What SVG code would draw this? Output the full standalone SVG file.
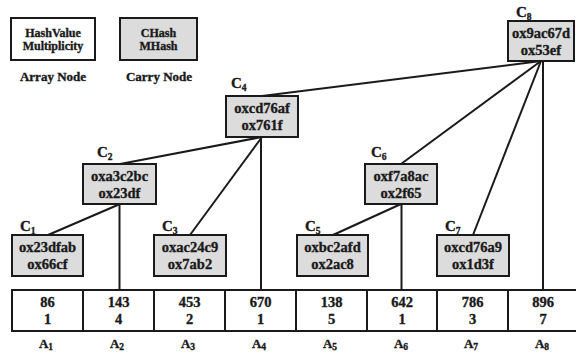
<svg xmlns="http://www.w3.org/2000/svg" width="576" height="356" viewBox="0 0 576 356" font-family="'Liberation Serif', 'Times New Roman', serif" font-weight="700">
<style>
text{font-family:"Liberation Serif","Times New Roman",serif;font-weight:700;fill:#1a1a1a;stroke:#1a1a1a;stroke-width:0.35;text-anchor:middle}
.box{fill:#dcdcdc;stroke:#1a1a1a;stroke-width:2}
.arr{fill:#fff;stroke:#1a1a1a;stroke-width:2}
.nt{font-size:14.5px}
.lg{font-size:12px}
.lab{font-size:13px}
.cl{font-size:15px;text-anchor:start}
.sub{font-size:9.5px}
.edge{stroke:#1a1a1a;stroke-width:2;fill:none}
</style>
<rect width="576" height="356" fill="#fff"/>
<g id="legend">
<g id="legend-array"><rect class="arr" x="11" y="18" width="84" height="42"/><text class="lg" x="53" y="37">HashValue</text><text class="lg" x="53" y="50">Multiplicity</text><text class="lab" x="53" y="81">Array Node</text></g>
<g id="legend-carry"><rect class="box" x="120" y="18" width="77" height="42"/><text class="lg" x="158.5" y="37">CHash</text><text class="lg" x="158.5" y="50">MHash</text><text class="lab" x="159" y="81">Carry Node</text></g>
</g>
<g id="connectors">
<line class="edge" x1="541" y1="61" x2="262" y2="96"/>
<line class="edge" x1="541" y1="61" x2="401" y2="164"/>
<line class="edge" x1="541" y1="61" x2="473" y2="235"/>
<line class="edge" x1="543" y1="61" x2="543" y2="290"/>
<line class="edge" x1="262" y1="137" x2="120" y2="164"/>
<line class="edge" x1="262" y1="137" x2="190" y2="235"/>
<line class="edge" x1="261" y1="137" x2="261" y2="290"/>
<line class="edge" x1="120" y1="204" x2="48" y2="235"/>
<line class="edge" x1="119.5" y1="204" x2="119.5" y2="290"/>
<line class="edge" x1="401" y1="204" x2="333" y2="235"/>
<line class="edge" x1="401.5" y1="204" x2="401.5" y2="290"/>
</g>
<g id="C1"><text class="cl" x="20" y="231">C<tspan class="sub" dy="3">1</tspan></text><rect class="box" x="12" y="235" width="71" height="41"/><text class="nt" x="47.5" y="252">ox23dfab</text><text class="nt" x="47.5" y="269">ox66cf</text></g>
<g id="C2"><text class="cl" x="97" y="157">C<tspan class="sub" dy="3">2</tspan></text><rect class="box" x="83" y="164" width="73" height="40"/><text class="nt" x="119.5" y="181">oxa3c2bc</text><text class="nt" x="119.5" y="198">ox23df</text></g>
<g id="C3"><text class="cl" x="162" y="231">C<tspan class="sub" dy="3">3</tspan></text><rect class="box" x="154" y="235" width="72" height="41"/><text class="nt" x="190" y="252">oxac24c9</text><text class="nt" x="190" y="269">ox7ab2</text></g>
<g id="C4"><text class="cl" x="231" y="88">C<tspan class="sub" dy="3">4</tspan></text><rect class="box" x="226" y="96" width="72" height="41"/><text class="nt" x="262" y="113">oxcd76af</text><text class="nt" x="262" y="130">ox761f</text></g>
<g id="C5"><text class="cl" x="305" y="231">C<tspan class="sub" dy="3">5</tspan></text><rect class="box" x="297" y="235" width="71" height="41"/><text class="nt" x="332.5" y="252">oxbc2afd</text><text class="nt" x="332.5" y="269">ox2ac8</text></g>
<g id="C6"><text class="cl" x="371" y="157">C<tspan class="sub" dy="3">6</tspan></text><rect class="box" x="365" y="164" width="72" height="40"/><text class="nt" x="401" y="181">oxf7a8ac</text><text class="nt" x="401" y="198">ox2f65</text></g>
<g id="C7"><text class="cl" x="445" y="231">C<tspan class="sub" dy="3">7</tspan></text><rect class="box" x="437" y="235" width="72" height="41"/><text class="nt" x="473" y="252">oxcd76a9</text><text class="nt" x="473" y="269">ox1d3f</text></g>
<g id="C8"><text class="cl" x="516" y="17">C<tspan class="sub" dy="3">8</tspan></text><rect class="box" x="508" y="21" width="66" height="40"/><text class="nt" x="541" y="38">ox9ac67d</text><text class="nt" x="541" y="55">ox53ef</text></g>
<g id="array">
<rect class="arr" x="12" y="290" width="570" height="41"/>
<g class="edge"><line x1="83" y1="290" x2="83" y2="331"/><line x1="154" y1="290" x2="154" y2="331"/><line x1="225" y1="290" x2="225" y2="331"/><line x1="296" y1="290" x2="296" y2="331"/><line x1="367" y1="290" x2="367" y2="331"/><line x1="437" y1="290" x2="437" y2="331"/><line x1="508" y1="290" x2="508" y2="331"/></g>
</g>
<g id="A1"><text class="nt" x="47.5" y="307">86</text><text class="nt" x="47.5" y="324">1</text><text class="lab" x="46" y="348">A<tspan class="sub" dy="2">1</tspan></text></g>
<g id="A2"><text class="nt" x="118.5" y="307">143</text><text class="nt" x="118.5" y="324">4</text><text class="lab" x="117" y="348">A<tspan class="sub" dy="2">2</tspan></text></g>
<g id="A3"><text class="nt" x="189.5" y="307">453</text><text class="nt" x="189.5" y="324">2</text><text class="lab" x="188" y="348">A<tspan class="sub" dy="2">3</tspan></text></g>
<g id="A4"><text class="nt" x="260.5" y="307">670</text><text class="nt" x="260.5" y="324">1</text><text class="lab" x="259" y="348">A<tspan class="sub" dy="2">4</tspan></text></g>
<g id="A5"><text class="nt" x="331.5" y="307">138</text><text class="nt" x="331.5" y="324">5</text><text class="lab" x="330" y="348">A<tspan class="sub" dy="2">5</tspan></text></g>
<g id="A6"><text class="nt" x="402" y="307">642</text><text class="nt" x="402" y="324">1</text><text class="lab" x="401" y="348">A<tspan class="sub" dy="2">6</tspan></text></g>
<g id="A7"><text class="nt" x="472.5" y="307">786</text><text class="nt" x="472.5" y="324">3</text><text class="lab" x="471" y="348">A<tspan class="sub" dy="2">7</tspan></text></g>
<g id="A8"><text class="nt" x="543" y="307">896</text><text class="nt" x="543" y="324">7</text><text class="lab" x="542" y="348">A<tspan class="sub" dy="2">8</tspan></text></g>
</svg>
